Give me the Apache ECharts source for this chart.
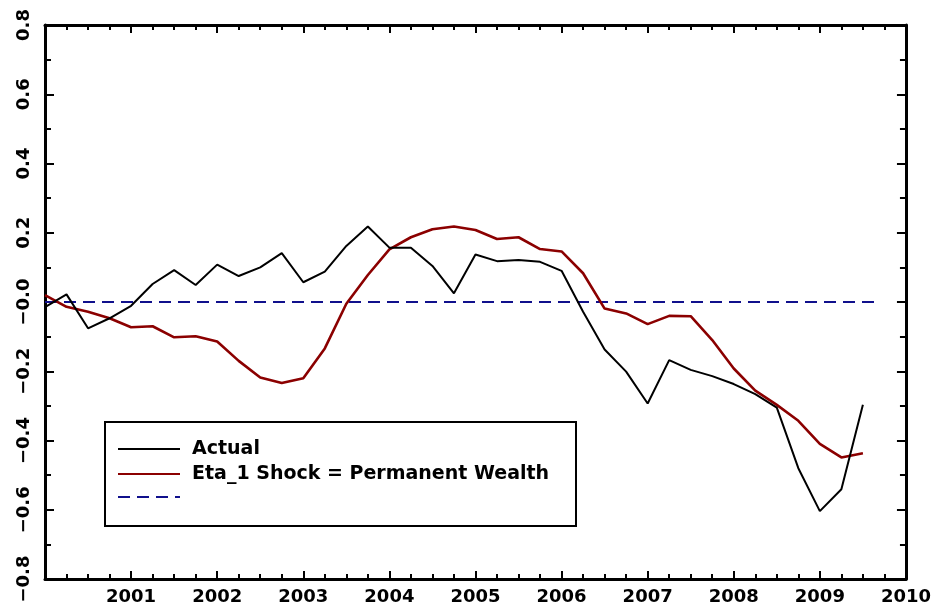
<!DOCTYPE html>
<html>
<head>
<meta charset="utf-8">
<title>Actual vs Eta_1 Shock</title>
<script src="https://cdn.jsdelivr.net/npm/echarts@6/dist/echarts.min.js"></script>
<style>
  html, body { margin: 0; padding: 0; background: #fff; }
  #chart { width: 934px; height: 610px; }
</style>
</head>
<body>
<div id="chart"></div>
<script>
// Quarterly observations, first quarter of 2000 through mid-2009
const startYear = 2000;
const actual = [
  -0.015, 0.022, -0.076, -0.047,
  -0.011, 0.052, 0.092, 0.049,
  0.108, 0.075, 0.100, 0.141,
  0.057, 0.088, 0.162, 0.218,
  0.157, 0.157, 0.104, 0.025,
  0.137, 0.118, 0.121, 0.116,
  0.090, -0.028, -0.137, -0.201,
  -0.293, -0.168, -0.196, -0.214,
  -0.237, -0.266, -0.305, -0.480,
  -0.604, -0.541, -0.297
];
const etaShock = [
  0.020, -0.014, -0.028, -0.047,
  -0.073, -0.070, -0.102, -0.099,
  -0.114, -0.170, -0.218, -0.234,
  -0.220, -0.134, -0.005, 0.078,
  0.152, 0.187, 0.210, 0.218,
  0.208, 0.182, 0.187, 0.153,
  0.146, 0.083, -0.019, -0.033,
  -0.064, -0.040, -0.041, -0.110,
  -0.192, -0.256, -0.297, -0.343,
  -0.410, -0.449, -0.437
];
// Zero reference line, drawn over the sample span
const baselineSpan = [2000, 2009.7];
const baselineLevel = 0;

const seriesNames = ['Actual', 'Eta_1 Shock = Permanent Wealth', 'Zero line'];
const yearTicks = [2001, 2002, 2003, 2004, 2005, 2006, 2007, 2008, 2009, 2010];

const toPairs = arr => arr.map((v, i) => [startYear + i / 4, v]);

const FONT = 'DejaVu Sans';
const MINUS = '\u2212';

function yLabel(v) {
  const r = Math.round(v * 10) / 10;
  if (r === 0) return MINUS + '0.0';
  if (r < 0) return MINUS + Math.abs(r).toFixed(1);
  return r.toFixed(1);
}

const frameAxis = {
  axisLine: { show: true, onZero: false, lineStyle: { color: '#000', width: 3 } },
  splitLine: { show: false }
};

const chart = echarts.init(document.getElementById('chart'), null, { renderer: 'canvas' });

chart.setOption({
  animation: false,
  backgroundColor: '#fff',
  grid: { left: 45, right: 27, top: 25, bottom: 31, containLabel: false },
  xAxis: [
    Object.assign({
      type: 'value', min: 2000, max: 2010, interval: 1, position: 'bottom',
      axisTick: { show: true, inside: true, length: 8, lineStyle: { color: '#000', width: 2 } },
      minorTick: { show: true, splitNumber: 4, length: 5, lineStyle: { color: '#000', width: 2 } },
      axisLabel: {
        show: true, margin: 9, color: '#000', fontFamily: FONT, fontWeight: 'bold', fontSize: 18,
        formatter: v => (yearTicks.indexOf(Math.round(v)) >= 0 ? String(Math.round(v)) : '')
      }
    }, frameAxis),
    Object.assign({
      type: 'value', min: 2000, max: 2010, interval: 1, position: 'top',
      axisTick: { show: true, inside: true, length: 8, lineStyle: { color: '#000', width: 2 } },
      minorTick: { show: true, splitNumber: 4, length: 5, lineStyle: { color: '#000', width: 2 } },
      axisLabel: { show: false }
    }, frameAxis)
  ],
  yAxis: [
    Object.assign({
      type: 'value', min: -0.8, max: 0.8, interval: 0.2, position: 'left',
      axisTick: { show: true, inside: true, length: 9, lineStyle: { color: '#000', width: 2 } },
      minorTick: { show: true, splitNumber: 2, length: 6, lineStyle: { color: '#000', width: 2 } },
      axisLabel: {
        show: true, rotate: 90, margin: 12, color: '#000', fontFamily: FONT, fontWeight: 'bold', fontSize: 18,
        formatter: yLabel
      }
    }, frameAxis),
    Object.assign({
      type: 'value', min: -0.8, max: 0.8, interval: 0.2, position: 'right',
      axisTick: { show: true, inside: true, length: 9, lineStyle: { color: '#000', width: 2 } },
      minorTick: { show: true, splitNumber: 2, length: 6, lineStyle: { color: '#000', width: 2 } },
      axisLabel: { show: false }
    }, frameAxis)
  ],
  graphic: [{
    type: 'rect',
    left: 104, top: 421,
    shape: { width: 471, height: 104 },
    style: { fill: '#fff', stroke: '#000', lineWidth: 2 },
    z: 10
  }],
  legend: {
    show: true,
    orient: 'vertical',
    left: 104, top: 421,
    padding: [18, 16, 16, 13],
    itemWidth: 62, itemHeight: 20, itemGap: 5,
    data: seriesNames,
    formatter: name => (name === seriesNames[2] ? '' : name),
    itemStyle: { opacity: 0 },
    textStyle: {
      color: '#000', fontFamily: FONT, fontWeight: 'bold', fontSize: 19, lineHeight: 20,
      padding: [0, 0, 0, 7]
    },
    z: 20
  },
  series: [
    {
      name: seriesNames[0], type: 'line', xAxisIndex: 0, yAxisIndex: 0,
      data: toPairs(actual), symbol: 'none', showSymbol: false,
      lineStyle: { color: '#000', width: 2 }, itemStyle: { color: '#000' }, z: 4
    },
    {
      name: seriesNames[1], type: 'line', xAxisIndex: 0, yAxisIndex: 0,
      data: toPairs(etaShock), symbol: 'none', showSymbol: false,
      lineStyle: { color: '#8b0000', width: 2.6 }, itemStyle: { color: '#8b0000' }, z: 3
    },
    {
      name: seriesNames[2], type: 'line', xAxisIndex: 0, yAxisIndex: 0,
      data: baselineSpan.map(x => [x, baselineLevel]), symbol: 'none', showSymbol: false,
      lineStyle: { color: '#10108c', width: 2, type: [12, 7] }, itemStyle: { color: '#10108c' }, z: 2
    }
  ]
});
</script>
</body>
</html>
